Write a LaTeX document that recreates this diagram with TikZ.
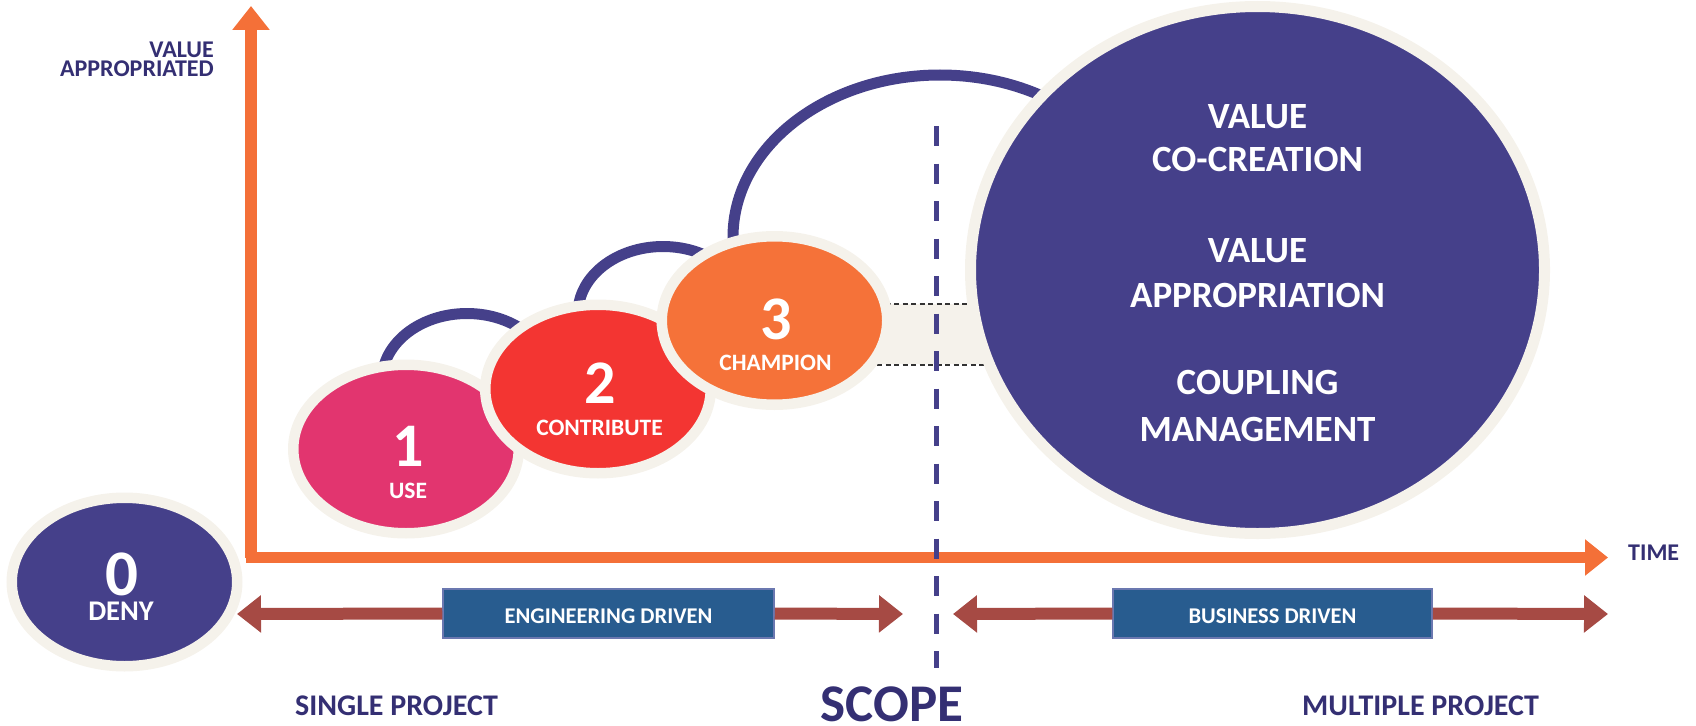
\documentclass[tikz,border=0pt]{standalone}
\usepackage{fontspec}
\setmainfont{Carlito}
\usetikzlibrary{arrows.meta,shapes.geometric}
\definecolor{cream}{HTML}{F5F2EB}
\definecolor{navy}{HTML}{45408A}
\definecolor{labelc}{HTML}{342F73}
\definecolor{axisorange}{HTML}{F47038}
\definecolor{pinkc}{HTML}{E2356F}
\definecolor{redc}{HTML}{F33532}
\definecolor{orangec}{HTML}{F57239}
\definecolor{brownc}{HTML}{A64A44}
\definecolor{boxblue}{HTML}{285C8F}
\definecolor{boxedge}{HTML}{6B78B0}
\begin{document}
\begin{tikzpicture}[x=1pt,y=-1pt,
  stage/.style={ellipse, draw=cream, line width=10.5pt, minimum width=225.5pt, minimum height=168.5pt, inner sep=0pt},
  digit/.style={text=white, font=\fontsize{62}{62}\selectfont\bfseries, anchor=base, inner sep=0pt, text depth=0pt},
  stagetext/.style={text=white, font=\fontsize{23.5}{24}\selectfont\bfseries, anchor=base, inner sep=0pt, text height=16pt, text depth=0pt},
  bigtext/.style={text=white, font=\fontsize{37}{40}\selectfont\bfseries, anchor=base, inner sep=0pt},
  axislabel/.style={text=labelc, font=\fontsize{24}{26}\selectfont\bfseries, inner sep=0pt, text height=16pt, text depth=0pt},
  scopelabel/.style={text=labelc, font=\fontsize{30}{32}\selectfont\bfseries, inner sep=0pt, text depth=0pt},
  loopline/.style={draw=navy, line width=11pt},
  drivebox/.style={rectangle, fill=boxblue, draw=boxedge, line width=1.5pt, text=white,
     font=\fontsize{22.5}{24}\selectfont\bfseries, text height=19pt, text depth=0pt, inner sep=0pt},
  brownarrow/.style={draw=brownc, line width=12pt, -{Triangle[length=24pt,width=36pt]}},
  axisline/.style={draw=axisorange, line width=11.5pt, -{Triangle[length=24pt,width=36pt]}},
  thindash/.style={draw=black!80, line width=1.3pt, dash pattern=on 5pt off 3.5pt}
]
\useasboundingbox (0,0) rectangle (1696,725);

% loops behind the ellipses
\draw[loopline] (382,400) -- (382,380.5) arc[start angle=180, end angle=360, x radius=85, y radius=67] -- (552,400);
\draw[loopline] (578,330) -- (578,313.5) arc[start angle=180, end angle=360, x radius=85, y radius=67] -- (748,330);
\draw[loopline] (733,260) -- (733,237) arc[start angle=180, end angle=360, x radius=207, y radius=162] -- (1147,260);

% band between champion and big ellipse
\fill[cream] (850,304) rectangle (1000,364);
\draw[thindash] (860,304) -- (1000,304);
\draw[thindash] (860,365) -- (1000,365);

% stages
\node[stage, fill=navy] (deny) at (124.5,582) {};
\node[digit, font=\fontsize{65}{65}\selectfont\bfseries] (d0) at (122,595) {0};
\node[stagetext, font=\fontsize{28.5}{30}\selectfont\bfseries, text height=18pt] (t0) at (121,620) {DENY};

\node[stage, fill=pinkc] (use) at (406,449) {};
\node[digit] (d1) at (408,466) {1};
\node[stagetext] (t1) at (408,498) {USE};

\node[stage, fill=redc] (contribute) at (598,389) {};
\node[digit] (d2) at (600,403) {2};
\node[stagetext] (t2) at (599.5,435) {CONTRIBUTE};

\node[stage, fill=orangec] (champion) at (774.5,320.5) {};
\node[digit] (d3) at (776,339) {3};
\node[stagetext] (t3) at (775.5,370) {CHAMPION};

\node[ellipse, draw=cream, line width=11pt, fill=navy, minimum width=574pt, minimum height=527pt, inner sep=0pt] (big) at (1257.5,270) {};
\node[bigtext] (b1) at (1257.5,128) {VALUE};
\node[bigtext] (b2) at (1257.5,171) {CO-CREATION};
\node[bigtext] (b3) at (1257.5,262) {VALUE};
\node[bigtext] (b4) at (1257.5,307) {APPROPRIATION};
\node[bigtext] (b5) at (1257.5,394) {COUPLING};
\node[bigtext] (b6) at (1257.5,441) {MANAGEMENT};

% axes
\coordinate (origin) at (251,558);
\coordinate (ytop) at (251,6);
\coordinate (xstart) at (246,557.5);
\coordinate (xend) at (1608,557.5);
\draw[axisline] (origin) -- (ytop);
\draw[axisline, line width=11pt, -{Triangle[length=23pt,width=35pt]}] (xstart) -- (xend);

\node[axislabel, anchor=base east] (yl1) at (214,57) {VALUE};
\node[axislabel, anchor=base east] (yl2) at (214,77) {APPROPRIATED};
\node[axislabel, anchor=base west] (xl) at (1628,560) {TIME};

% scope line
\coordinate (stop) at (936.5,126);
\coordinate (sbot) at (936.5,668);
\draw[draw=navy, line width=5.5pt, dash pattern=on 20pt off 17.5pt] (stop) -- (sbot);

% drivers
\node[drivebox, minimum width=331pt, minimum height=49pt] (eng) at (608.5,613.5) {ENGINEERING DRIVEN};
\node[drivebox, minimum width=319pt, minimum height=49pt] (bus) at (1272.5,613.5) {BUSINESS DRIVEN};
\coordinate (engL) at (237,614);
\coordinate (engR) at (903,614);
\coordinate (busL) at (953,614);
\coordinate (busR) at (1608,614);
\draw[brownarrow] (eng.west) -- (engL);
\draw[brownarrow] (eng.east) -- (engR);
\draw[brownarrow] (bus.west) -- (busL);
\draw[brownarrow] (bus.east) -- (busR);

\node[scopelabel, anchor=base west] (single) at (295,715) {SINGLE PROJECT};
\node[scopelabel, anchor=base west] (multi) at (1302,715) {MULTIPLE PROJECT};
\node[scopelabel, font=\fontsize{53}{55}\selectfont\bfseries, anchor=base] (scope) at (892,721) {SCOPE};
\end{tikzpicture}
\end{document}
